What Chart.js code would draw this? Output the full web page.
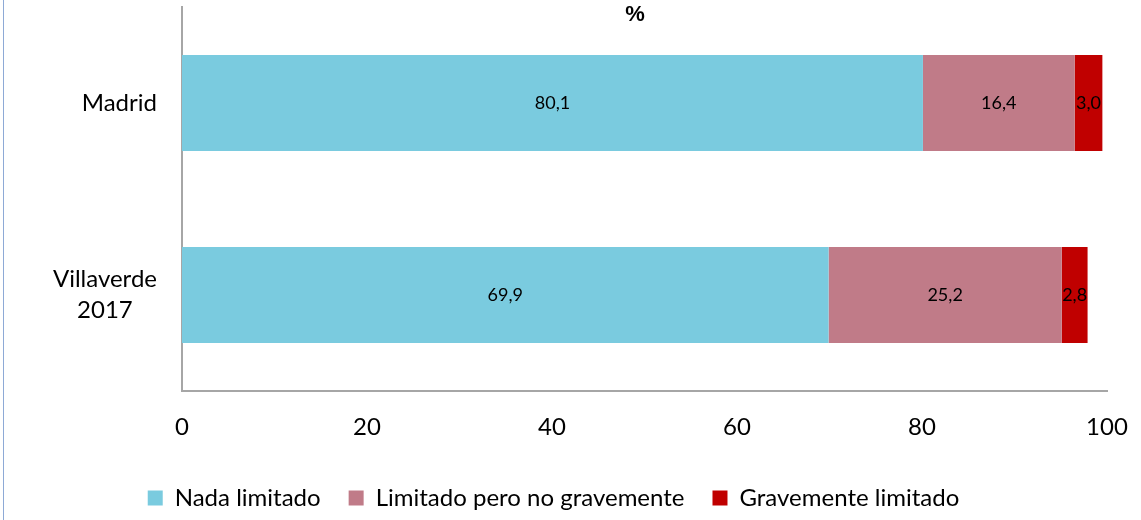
<!DOCTYPE html>
<html>
<head>
<meta charset="utf-8">
<script src="https://cdn.jsdelivr.net/npm/chart.js@4/dist/chart.umd.min.js"></script>
<style>
  body { margin: 0; background: #fff; }
  #wrap { position: relative; width: 1141px; height: 520px; }
  #edge { position: absolute; left: 3px; top: 0; width: 1px; height: 520px; background: #8eaad6; }
</style>
</head>
<body>
<div id="wrap">
  <canvas id="chart" width="1141" height="520"></canvas>
  <div id="edge"></div>
</div>
<script>
// --- data ---
const categories = [['Madrid'], ['Villaverde', '2017']];
const seriesNames = ['Nada limitado', 'Limitado pero no gravemente', 'Gravemente limitado'];
const nadaLimitado = [80.1, 69.9];
const limitadoNoGrave = [16.4, 25.2];
const gravementeLimitado = [3.0, 2.8];
const xTicks = [0, 20, 40, 60, 80, 100];
const titleText = '%';

const colors = ['#7acbdf', '#c07b88', '#c00000'];
const FONT = 'Lato, "Noto Sans", sans-serif';

// etiquetas de valor centradas en cada segmento
const valueLabels = {
    id: 'valueLabels',
    afterDatasetsDraw(chart) {
        const ctx = chart.ctx;
        ctx.save();
        ctx.font = '18px ' + FONT;
        ctx.fillStyle = '#000';
        ctx.textAlign = 'center';
        ctx.textBaseline = 'middle';
        chart.data.datasets.forEach((ds, di) => {
            chart.getDatasetMeta(di).data.forEach((bar, i) => {
                const p = bar.getCenterPoint();
                ctx.fillText(ds.data[i].toFixed(1).replace('.', ','), p.x, p.y);
            });
        });
        ctx.restore();
    }
};

// etiquetas de categoria (bloque alineado a la derecha, lineas centradas) + titulo
const sideLabels = {
    id: 'sideLabels',
    afterDraw(chart) {
        const ctx = chart.ctx;
        const yScale = chart.scales.y;
        const rightEdge = yScale.right - 25;
        ctx.save();
        ctx.font = '24px ' + FONT;
        ctx.fillStyle = '#000';
        ctx.textAlign = 'center';
        ctx.textBaseline = 'middle';
        categories.forEach((lines, i) => {
            const yc = yScale.getPixelForTick(i);
            const w = Math.max(...lines.map(l => ctx.measureText(l).width));
            const cx = rightEdge - w / 2;
            const lh = 31;
            lines.forEach((l, k) => {
                ctx.fillText(l, cx, yc + (k - (lines.length - 1) / 2) * lh);
            });
        });
        ctx.font = 'bold 22px "Liberation Sans", Arial, sans-serif';
        ctx.fillText(titleText, 635, 15);
        ctx.restore();
    }
};

new Chart(document.getElementById('chart'), {
    type: 'bar',
    data: {
        labels: categories,
        datasets: [
            { label: seriesNames[0], data: nadaLimitado, backgroundColor: colors[0] },
            { label: seriesNames[1], data: limitadoNoGrave, backgroundColor: colors[1] },
            { label: seriesNames[2], data: gravementeLimitado, backgroundColor: colors[2] }
        ]
    },
    options: {
        indexAxis: 'y',
        responsive: false,
        animation: false,
        layout: { padding: { left: 0, right: 34, top: 7, bottom: 0 } },
        datasets: { bar: { categoryPercentage: 1, barPercentage: 0.5 } },
        scales: {
            x: {
                stacked: true,
                min: 0,
                max: 100,
                afterBuildTicks: (s) => { s.ticks = xTicks.map(v => ({ value: v })); },
                grid: { display: false, drawTicks: false },
                border: { display: true, color: '#a6a6a6', width: 2 },
                ticks: { color: '#000', font: { family: FONT, size: 24 }, padding: 22 },
                afterFit: (s) => { s.height = 67; s.paddingLeft = 0; s.paddingRight = 0; }
            },
            y: {
                stacked: true,
                grid: { display: false, drawTicks: false },
                border: { display: true, color: '#a6a6a6', width: 2 },
                ticks: { display: false },
                afterFit: (s) => { s.width = 182; s.paddingTop = 0; s.paddingBottom = 0; }
            }
        },
        plugins: {
            legend: {
                position: 'bottom',
                labels: {
                    boxWidth: 15,
                    boxHeight: 15,
                    padding: 28,
                    color: '#000',
                    font: { family: FONT, size: 24 }
                }
            },
            tooltip: { enabled: false }
        }
    },
    plugins: [valueLabels, sideLabels]
});
</script>
</body>
</html>
